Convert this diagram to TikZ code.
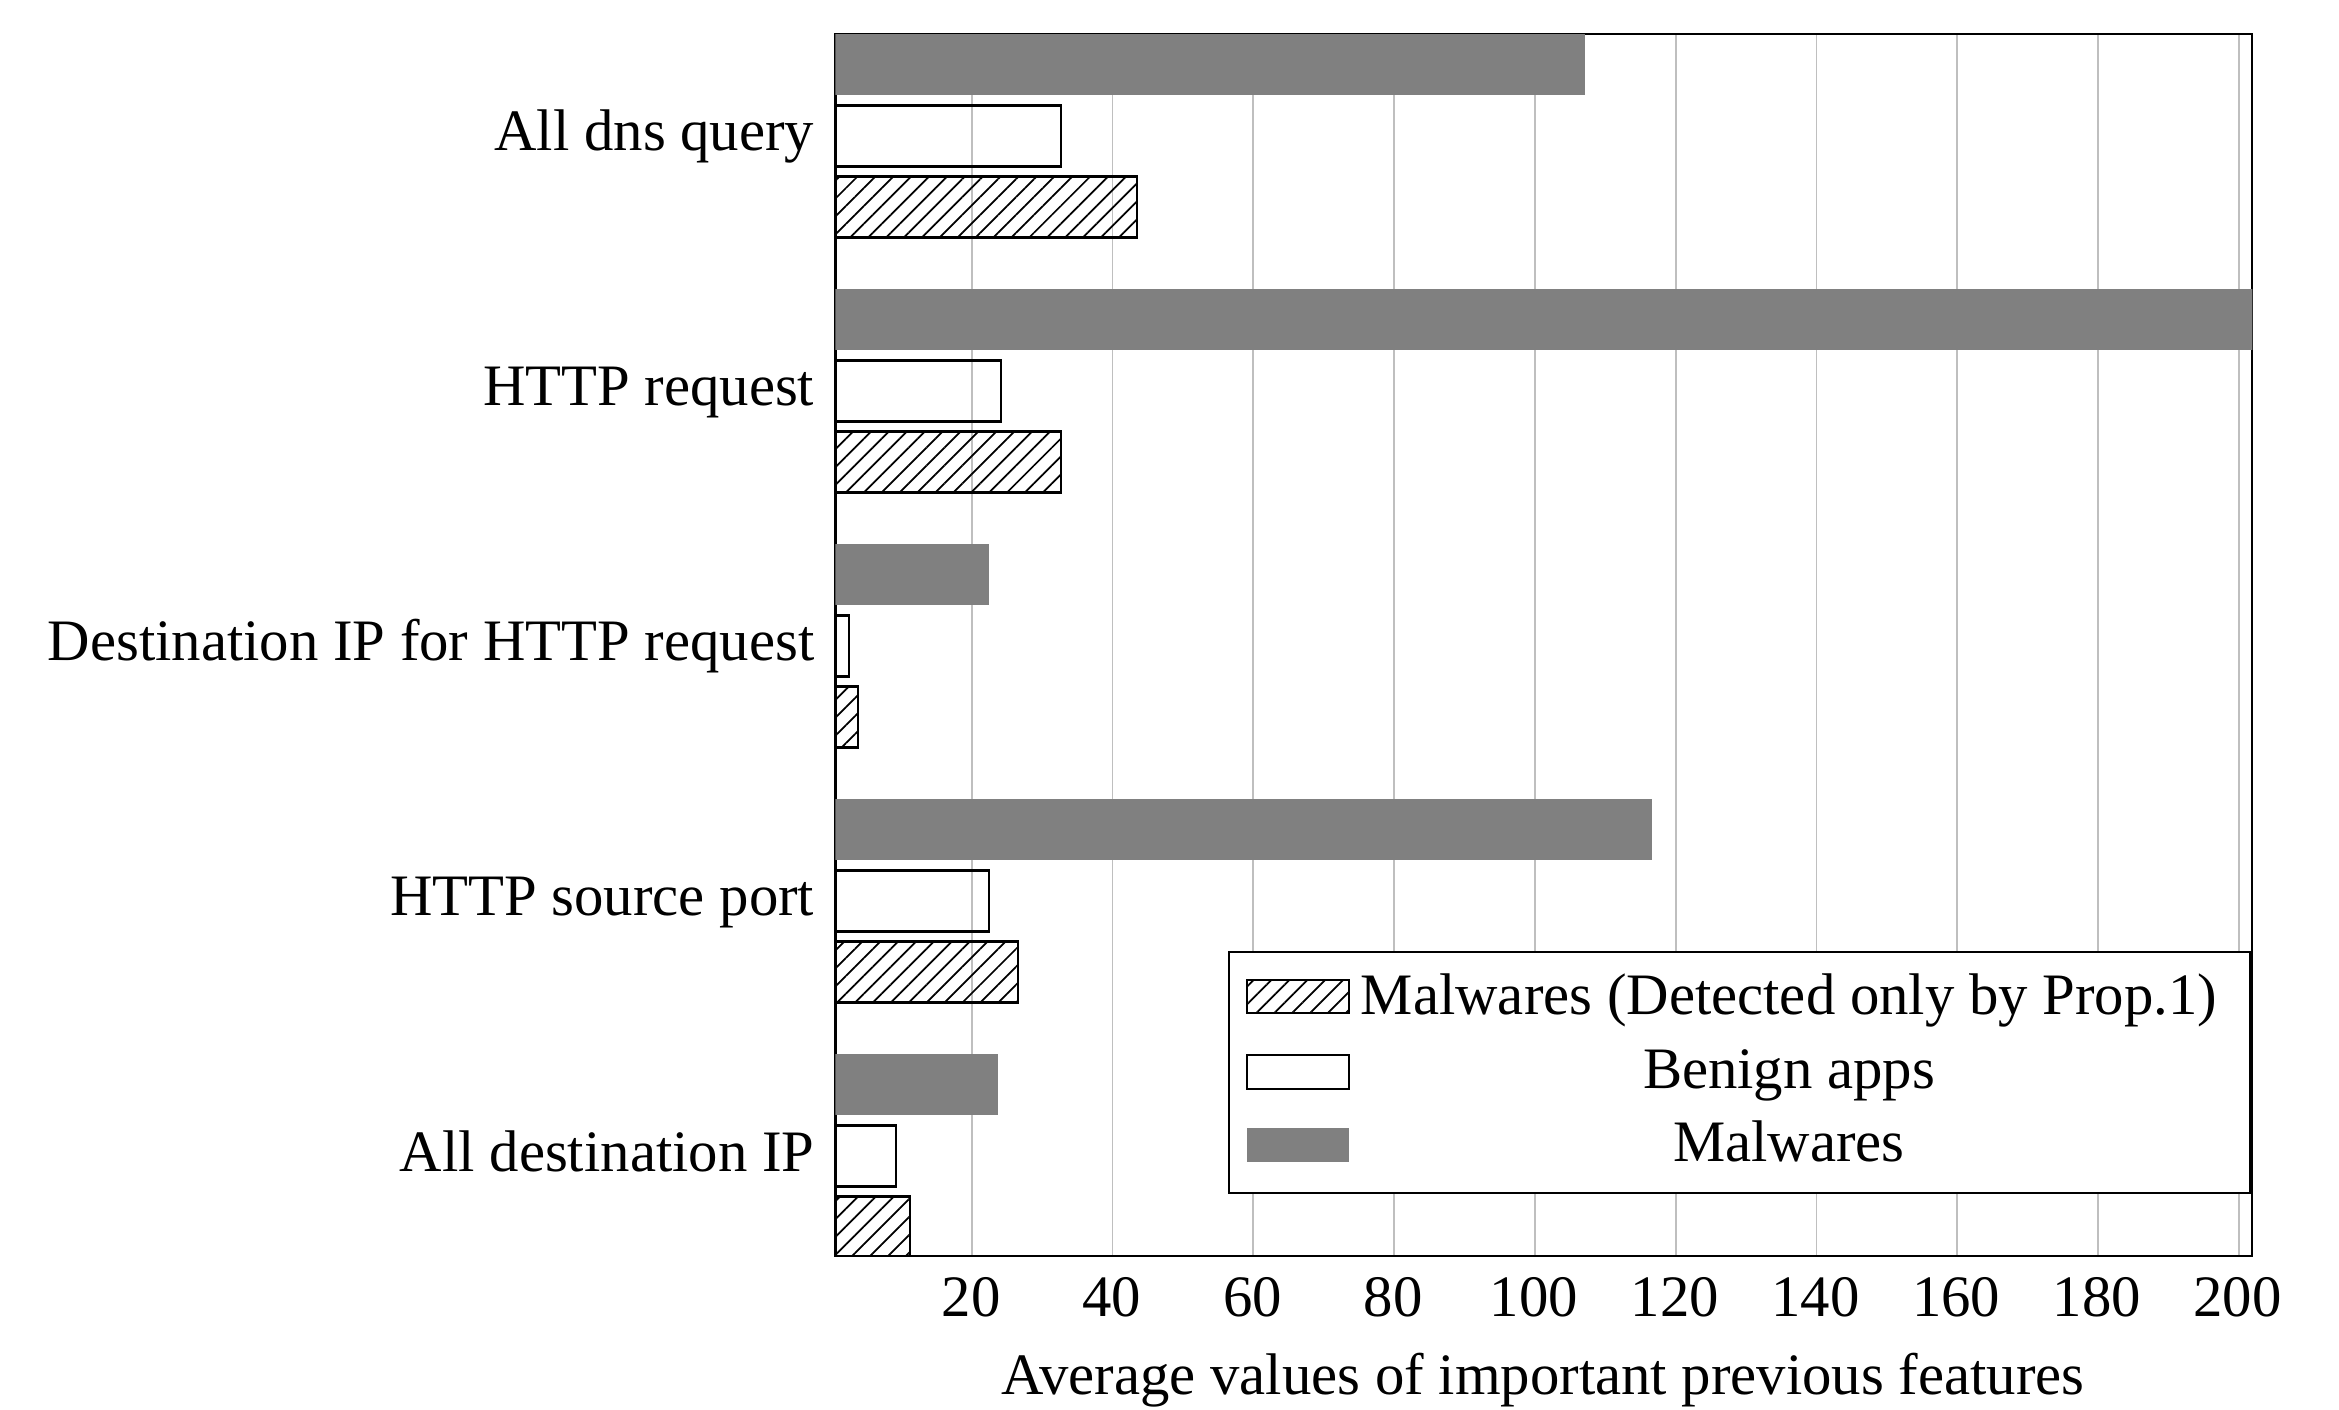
\documentclass[tikz,border=0pt]{standalone}
\usepackage{fontspec}
\setmainfont{Liberation Serif}
\usetikzlibrary{patterns.meta}

\begin{document}
\begin{tikzpicture}[
    x=0.01cm, y=-0.01cm,
    lbl/.style={font=\fontsize{16.7}{20}\selectfont, inner sep=0pt},
    gridline/.style={draw=black!25, line width=0.5pt},
    frame/.style={draw=black, line width=0.6pt},
    malbar/.style={fill=black!50},
    benbar/.style={draw=black, line width=0.6pt},
    detbar/.style={draw=black, line width=0.6pt,
        pattern={Lines[angle=45, distance=3.6pt, line width=0.5pt]}}
]
\useasboundingbox (0,0) rectangle (2339,1410);

% Plot area (values along x)
\begin{scope}[xshift=8.304cm, x=0.07036cm]
    \foreach \v in {20,40,...,200}
        \draw[gridline] (\v,34) -- (\v,1256);
    \draw[frame] (0.65,34) rectangle (201.9,1256);
    \begin{scope}
        \clip (0.65,34) rectangle (201.9,1256);
        % centre / malwares / benign / detected only by Prop.1
        \foreach \c/\mal/\ben/\det in {136/107.1/32.7/43.5, 391/205/24.2/32.7,
                646/22.5/2.6/3.9, 901/116.6/22.5/26.6, 1156/23.8/9.2/11.3} {
            \fill[malbar] (0.65,\c-101.5) rectangle (\mal,\c-40.5);
            \draw[benbar] (0.65,\c-30.5) rectangle (\ben,\c+30.5);
            \draw[detbar] (0.65,\c+40.5) rectangle (\det,\c+101.5);
        }
    \end{scope}
\end{scope}

% Category labels
\node[lbl, anchor=base east] (dns) at (815,151) {All dns query};
\node[lbl, anchor=base east] (http) at (815,406) {HTTP request};
\node[lbl, anchor=base east] (dstip) at (815,661) {Destination IP for HTTP request};
\node[lbl, anchor=base east] (srcport) at (815,916) {HTTP source port};
\node[lbl, anchor=base east] (allip) at (815,1171) {All destination IP};

% Ticks and axis title
\foreach \v in {20,40,...,200}
    \node[lbl, anchor=base] (tick\v) at ({830.4+7.036*\v},1316) {\v};
\node[lbl, anchor=base] (xtitle) at (1543,1394) {Average values of important previous features};

% Legend
\draw[frame, fill=white] (1229,952) rectangle (2250,1193);
\draw[detbar] (1247,980) rectangle (1349,1013);
\draw[benbar] (1247,1055) rectangle (1349,1089);
\fill[malbar] (1247,1128) rectangle (1349,1162);
\node[lbl, anchor=base] (legdet) at (1789,1015) {Malwares (Detected only by Prop.1)};
\node[lbl, anchor=base] (legben) at (1789,1089) {Benign apps};
\node[lbl, anchor=base] (legmal) at (1789,1161) {Malwares};

\end{tikzpicture}
\end{document}
